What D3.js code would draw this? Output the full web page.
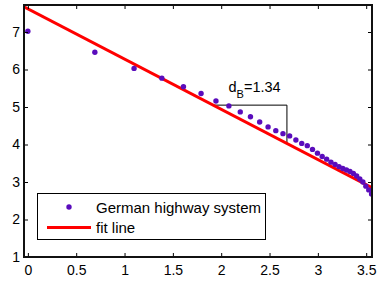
<!DOCTYPE html>
<html><head><meta charset="utf-8">
<script src="https://cdn.jsdelivr.net/npm/d3@7"></script>
<style>
html,body{margin:0;padding:0;background:#fff;}
svg{display:block;font-family:"Liberation Sans",Arial,sans-serif;}
</style></head>
<body>
<svg id="chart" width="377" height="282"></svg>
<script>
// data: x = ln(box size), y = ln(number of boxes)
const boxSizes = d3.range(1, 36);
const logNB = [7.02,6.46,6.03,5.77,5.54,5.36,5.16,5.03,4.87,4.74,
               4.60,4.47,4.37,4.29,4.23,4.12,4.03,3.97,3.87,3.77,
               3.68,3.61,3.53,3.47,3.41,3.36,3.32,3.28,3.23,3.16,
               3.08,3.00,2.89,2.79,2.68];
const fitIntercept = 7.62;
const fitSlope = -1.34;
const fitLabel = "1.34";
const triangleX = [1.918, 2.68];
const xTicks = [0,0.5,1,1.5,2,2.5,3,3.5];
const yTicks = [1,2,3,4,5,6,7];
const xDomain = [-0.04, 3.56];
const yDomain = [1, 7.72];
const legendLabels = ["German highway system", "fit line"];

const svg = d3.select("#chart");
const L = 24, R = 372, T = 5, B = 257;
const x = d3.scaleLinear().domain(xDomain).range([L, R]);
const y = d3.scaleLinear().domain(yDomain).range([B, T]);
const fit = v => fitIntercept + fitSlope * v;
const dotColor = "#5a0cbc";

svg.append("defs").append("clipPath").attr("id","clip")
  .append("rect").attr("x",L).attr("y",T).attr("width",R-L).attr("height",B-T);

const plot = svg.append("g").attr("clip-path","url(#clip)");

// slope triangle
const ty = fit(triangleX[0]);
plot.append("path")
  .attr("d", d3.line()([[x(triangleX[0]), y(ty)], [x(triangleX[1]), y(ty)], [x(triangleX[1]), y(fit(triangleX[1]))]]))
  .attr("fill","none").attr("stroke","#000").attr("stroke-width",1);

// fit line
plot.append("line")
  .attr("x1", x(xDomain[0])).attr("y1", y(fit(xDomain[0])))
  .attr("x2", x(xDomain[1])).attr("y2", y(fit(xDomain[1])))
  .attr("stroke","#ff0000").attr("stroke-width",3);

// dots
plot.selectAll("circle.pt").data(boxSizes.map((n,i)=>({x:Math.log(n), y:logNB[i]})))
  .enter().append("circle").attr("class","pt")
  .attr("cx", d=>x(d.x)).attr("cy", d=>y(d.y)).attr("r", 2.7)
  .attr("fill", dotColor);

// annotation
const ann = svg.append("text").attr("x", 228.5).attr("y", 92).attr("font-size", 14.5).attr("fill","#000");
ann.append("tspan").text("d");
ann.append("tspan").attr("font-size", 11).attr("dy", 6).text("B");
ann.append("tspan").attr("dy", -6).text("=" + fitLabel);

// axes
const tickLen = 4;
const axB = svg.append("g").attr("transform",`translate(0,${B})`)
  .call(d3.axisBottom(x).tickValues(xTicks).tickSize(-tickLen).tickPadding(8).tickFormat(d3.format("")));
const axT = svg.append("g").attr("transform",`translate(0,${T})`)
  .call(d3.axisTop(x).tickValues(xTicks).tickSize(-tickLen).tickFormat(""));
const axL = svg.append("g").attr("transform",`translate(${L},0)`)
  .call(d3.axisLeft(y).tickValues(yTicks).tickSize(-tickLen).tickPadding(4).tickFormat(d3.format("d")));
const axR = svg.append("g").attr("transform",`translate(${R},0)`)
  .call(d3.axisRight(y).tickValues(yTicks).tickSize(-tickLen).tickFormat(""));
[axB,axT,axL,axR].forEach(a=>{
  a.select(".domain").remove();
  a.selectAll(".tick line").attr("stroke","#000").attr("stroke-width",1);
  a.selectAll(".tick text").attr("font-size",14).attr("fill","#000")
    .attr("font-family","'Liberation Sans',Arial,sans-serif");
});
svg.append("rect").attr("x",L).attr("y",T).attr("width",R-L).attr("height",B-T)
  .attr("fill","none").attr("stroke","#111").attr("stroke-width",2);

// legend
const lg = svg.append("g");
lg.append("rect").attr("x",37.5).attr("y",193.5).attr("width",228).attr("height",46)
  .attr("fill","#fff").attr("stroke","#000").attr("stroke-width",1);
lg.append("circle").attr("cx",69).attr("cy",207).attr("r",2.7).attr("fill",dotColor);
lg.append("line").attr("x1",47).attr("x2",91).attr("y1",227.5).attr("y2",227.5)
  .attr("stroke","#ff0000").attr("stroke-width",3);
lg.append("text").attr("x",96).attr("y",212.5).attr("font-size",15).text(legendLabels[0]);
lg.append("text").attr("x",96).attr("y",232.5).attr("font-size",15).text(legendLabels[1]);
</script>
</body></html>
